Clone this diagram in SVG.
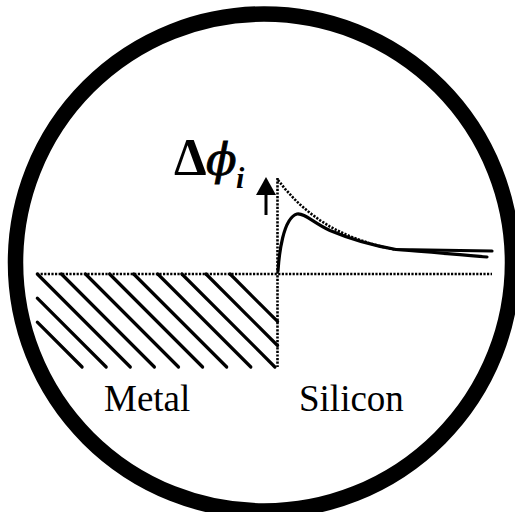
<svg xmlns="http://www.w3.org/2000/svg" width="515" height="512" viewBox="0 0 515 512">
<style>
.dot{fill:none;stroke:#000;stroke-width:2.6;stroke-dasharray:2.2 1.4}
.hatch{stroke:#000;stroke-width:3.2;stroke-linecap:round}
.solid{fill:none;stroke:#000;stroke-width:3.2;stroke-linecap:round;stroke-linejoin:round}
.lbl{font-family:"Liberation Serif","Times New Roman",serif;fill:#000}
</style>
<rect width="515" height="512" fill="#fff"/>
<g id="frame">
<circle cx="264" cy="262.5" r="248.5" fill="none" stroke="#000" stroke-width="15.5"/>
</g>
<g id="metal">
<g id="hatching">
<line class="hatch" x1="37.3" y1="322.2" x2="82.1" y2="367"/>
<line class="hatch" x1="37.3" y1="298.1" x2="106.2" y2="367"/>
<line class="hatch" x1="37.3" y1="274" x2="130.3" y2="367"/>
<line class="hatch" x1="61.4" y1="274" x2="154.4" y2="367"/>
<line class="hatch" x1="85.5" y1="274" x2="178.5" y2="367"/>
<line class="hatch" x1="109.6" y1="274" x2="202.6" y2="367"/>
<line class="hatch" x1="133.7" y1="274" x2="226.7" y2="367"/>
<line class="hatch" x1="157.8" y1="274" x2="250.8" y2="367"/>
<line class="hatch" x1="181.9" y1="274" x2="274.9" y2="367"/>
<line class="hatch" x1="206" y1="274" x2="277.5" y2="345.5"/>
<line class="hatch" x1="230.1" y1="274" x2="277.5" y2="321.4"/>
</g>
<text class="lbl" x="104" y="411" font-size="37">Metal</text>
</g>
<g id="silicon">
<text class="lbl" x="299" y="411" font-size="37">Silicon</text>
</g>
<g id="axes">
<line class="dot" x1="37" y1="274" x2="492" y2="274"/>
<line class="dot" x1="277.5" y1="178" x2="277.5" y2="367"/>
</g>
<g id="curves">
<polyline class="dot" points="278,180 285,188.8 295,199.7 300,204.5 310,213 320,220.3 330,226.6 340,231.8 350,236.3 360,240 370,243.4 382,246.8 395,249.6"/>
<path class="solid" d="M278,271 C279,255 283,218 297,214 C305,213 312,222 330,230.5 C350,239 370,245 396,249.5 L492,251"/>
<path class="solid" d="M396,249.5 C430,252 460,255 487,257"/>
</g>
<g id="label-dphi">
<text class="lbl" x="174" y="175" font-size="52" font-weight="bold">Δ</text>
<text x="206" y="175" font-size="45" font-style="italic" font-family="'DejaVu Serif',serif" stroke="#000" stroke-width="0.9">ϕ</text>
<text class="lbl" x="236" y="188" font-size="30" font-style="italic" font-weight="bold">i</text>
<line x1="266" y1="193" x2="266" y2="215" stroke="#000" stroke-width="3"/>
<polygon points="256,195 266,177 276,195" fill="#000"/>
</g>
</svg>
